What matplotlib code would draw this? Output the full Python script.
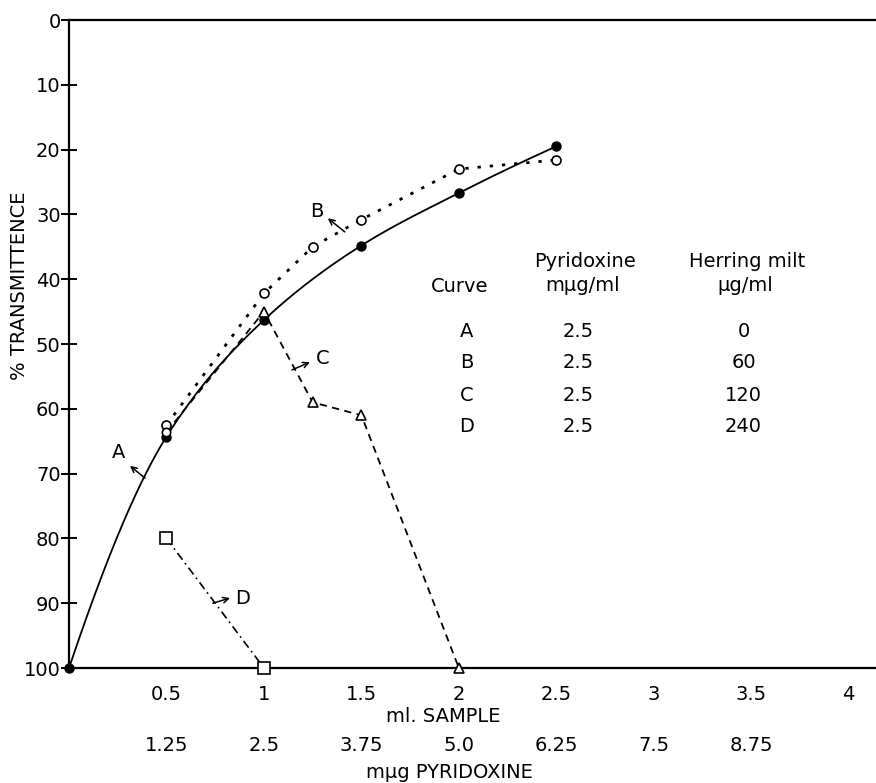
import numpy as np
import matplotlib
matplotlib.use("Agg")
import matplotlib.pyplot as plt
import matplotlib.transforms as mtransforms

# ---- data ----
a_x = [0, 0.5, 1.0, 1.5, 2.0, 2.5]
a_y = [100, 64.3, 46.3, 34.8, 26.7, 19.5]
b_x = [0.5, 1.0, 1.25, 1.5, 2.0, 2.5]
b_y = [62.5, 42.2, 35.0, 30.8, 23.0, 21.6]
c_x = [0.5, 1.0, 1.25, 1.5, 2.0]
c_y = [63.6, 45.0, 59.0, 61.0, 100]
d_x = [0.5, 1.0]
d_y = [80, 100]

ml_ticks = [0.5, 1, 1.5, 2, 2.5, 3, 3.5, 4]
ml_labels = ["0.5", "1", "1.5", "2", "2.5", "3", "3.5", "4"]
pyr_ticks = [1.25, 2.5, 3.75, 5.0, 6.25, 7.5, 8.75]
pyr_labels = ["1.25", "2.5", "3.75", "5.0", "6.25", "7.5", "8.75"]
y_ticks = [0, 10, 20, 30, 40, 50, 60, 70, 80, 90, 100]

curve_names = ["A", "B", "C", "D"]
pyridoxine_conc = ["2.5", "2.5", "2.5", "2.5"]
milt_conc = ["0", "60", "120", "240"]


def pchip(x, y, xs):
    x = np.asarray(x, float); y = np.asarray(y, float)
    h = np.diff(x); d = np.diff(y) / h
    n = len(x)
    m = np.zeros(n)
    for k in range(1, n - 1):
        if d[k - 1] * d[k] > 0:
            w1 = 2 * h[k] + h[k - 1]; w2 = h[k] + 2 * h[k - 1]
            m[k] = (w1 + w2) / (w1 / d[k - 1] + w2 / d[k])
    m[0] = ((2 * h[0] + h[1]) * d[0] - h[0] * d[1]) / (h[0] + h[1])
    m[-1] = ((2 * h[-1] + h[-2]) * d[-1] - h[-1] * d[-2]) / (h[-1] + h[-2])
    out = np.empty_like(xs)
    for i, xv in enumerate(xs):
        k = min(np.searchsorted(x, xv, side="right") - 1, n - 2)
        t = (xv - x[k]) / h[k]
        h00 = 2 * t**3 - 3 * t**2 + 1; h10 = t**3 - 2 * t**2 + t
        h01 = -2 * t**3 + 3 * t**2; h11 = t**3 - t**2
        out[i] = h00 * y[k] + h10 * h[k] * m[k] + h01 * y[k + 1] + h11 * h[k] * m[k + 1]
    return out


plt.rcParams['font.family'] = ['DejaVu Sans']
fig = plt.figure(figsize=(8.76, 7.83), dpi=100)
ax = fig.add_axes([69 / 876, (783 - 668) / 783, (876 - 69) / 876, (668 - 20) / 783])
ax.set_xlim(0, 4.14)
ax.set_ylim(100, 0)
ax.spines['right'].set_visible(False)
for s in ['left', 'top', 'bottom']:
    ax.spines[s].set_linewidth(1.6)

# curve A (smooth)
xs = np.linspace(a_x[0], a_x[-1], 300)
ax.plot(xs, pchip(a_x, a_y, xs), color='black', lw=1.3, zorder=3)
ax.plot(a_x, a_y, 'o', color='black', ms=6.5, zorder=4, clip_on=False)
# curve B
ax.plot(b_x, b_y, color='black', lw=2.0, ls=(0, (1.2, 3.2)), zorder=3)
ax.plot(b_x, b_y, 'o', mfc='white', mec='black', ms=6.5, mew=1.2, zorder=4)
# curve C
ax.plot(c_x, c_y, color='black', lw=1.3, ls=(0, (4, 3)), zorder=3)
ax.plot(c_x[1:], c_y[1:], '^', mfc='white', mec='black', ms=7, mew=1.2, zorder=4, clip_on=False)
ax.plot(c_x[:1], c_y[:1], 'o', mfc='white', mec='black', ms=6, mew=1.2, zorder=4)
# curve D
ax.plot(d_x, d_y, color='black', lw=1.2, ls=(0, (5, 2.5, 1, 2.5)), zorder=3)
ax.plot(d_x, d_y, 's', mfc='white', mec='black', ms=8, mew=1.2, zorder=4, clip_on=False)

# curve labels with arrows
fs = 14
lab = dict(A=((0.256, 66.8), (0.39, 70.7), (0.313, 68.8)),
           B=((1.272, 29.6), (1.415, 32.7), (1.328, 30.6)),
           C=((1.303, 52.2), (1.144, 54.0), (1.236, 52.8)),
           D=((0.892, 89.2), (0.738, 90.0), (0.826, 89.2)))
for name, (tp, tail, head) in lab.items():
    ax.text(tp[0], tp[1], name, fontsize=fs, ha='center', va='center')
    ax.annotate('', xy=head, xytext=tail,
                arrowprops=dict(arrowstyle='->', lw=1.1, color='black',
                                shrinkA=0, shrinkB=0))

# legend table
ax.text(2.005, 41.2, "Curve", fontsize=fs, ha='center', va='center')
ax.text(2.646, 37.3, "Pyridoxine", fontsize=fs, ha='center', va='center')
ax.text(2.636, 41.0, "mμg/ml", fontsize=fs, ha='center', va='center')
ax.text(3.477, 37.3, "Herring milt", fontsize=fs, ha='center', va='center')
ax.text(3.467, 41.0, "μg/ml", fontsize=fs, ha='center', va='center')
row_y = [48.1, 52.9, 57.9, 62.8]
for i in range(4):
    ax.text(2.04, row_y[i], curve_names[i], fontsize=fs, ha='center', va='center')
    ax.text(2.61, row_y[i], pyridoxine_conc[i], fontsize=fs, ha='center', va='center')
    ax.text(3.46, row_y[i], milt_conc[i], fontsize=fs, ha='center', va='center')

# axes ticks
ax.set_yticks(y_ticks)
ax.set_yticklabels([str(v) for v in y_ticks], fontsize=fs)
ax.tick_params(axis='y', direction='inout', length=12, width=1.4, pad=0)
ax.set_xticks(ml_ticks)
ax.set_xticklabels(ml_labels, fontsize=fs)
ax.tick_params(axis='x', length=0, pad=12)

trans = mtransforms.blended_transform_factory(ax.transData, ax.transAxes)
for v, l in zip(pyr_ticks, pyr_labels):
    ax.text(v / 2.5, -0.119, l, transform=trans, fontsize=fs, ha='center', va='center')
ax.text(1.92, -0.0756, "ml. SAMPLE", transform=trans, fontsize=fs, ha='center', va='center')
ax.text(1.95, -0.162, "mμg PYRIDOXINE", transform=trans, fontsize=fs, ha='center', va='center')
ax.text(-0.061, 0.59, "% TRANSMITTENCE", transform=ax.transAxes, fontsize=fs,
        rotation=90, ha='center', va='center')

fig.savefig("out.png", dpi=100)
